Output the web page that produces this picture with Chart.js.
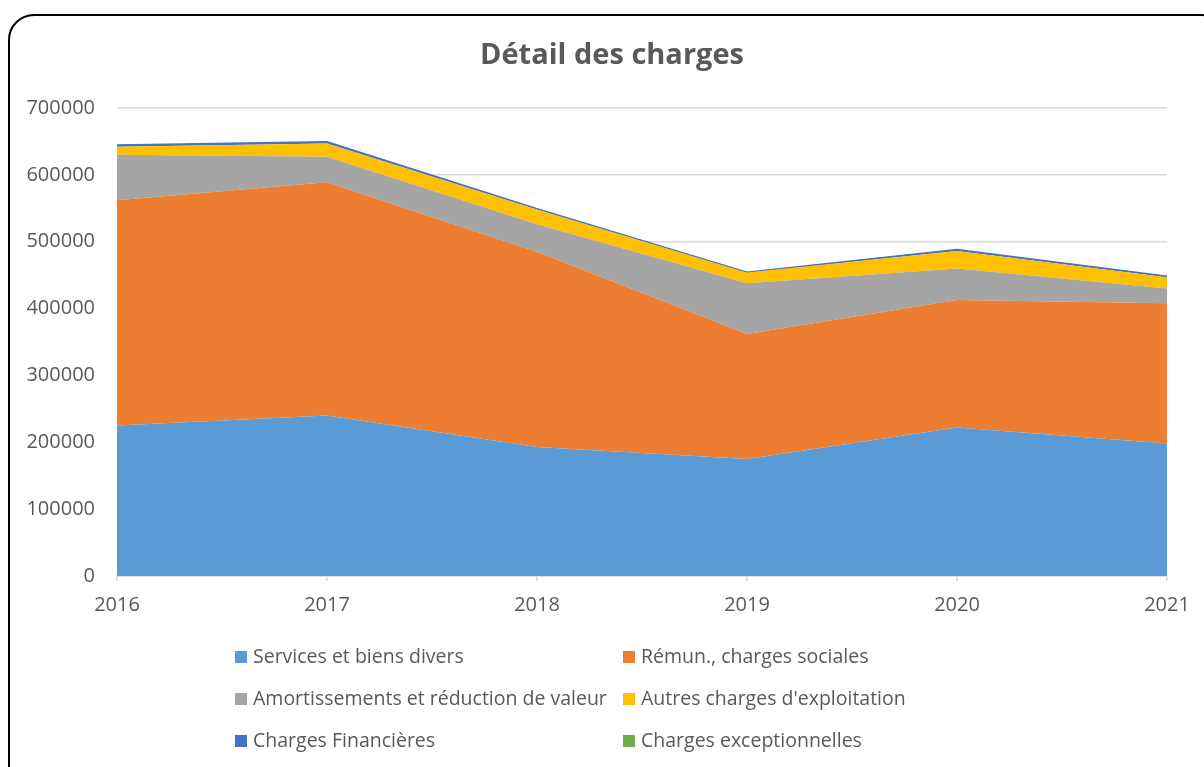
<!DOCTYPE html>
<html lang="fr">
<head>
<meta charset="utf-8">
<script src="https://cdn.jsdelivr.net/npm/chart.js@4"></script>
<style>
  html, body { margin: 0; padding: 0; background: #fff; overflow: hidden; }
  #cadre {
    position: absolute; left: 8px; top: 14px; width: 1220px; height: 780px;
    border: 2px solid #000; border-radius: 26px; box-sizing: border-box;
  }
  #zone { position: absolute; left: 0; top: 0; width: 1204px; height: 767px; }
</style>
</head>
<body>
<div id="cadre"></div>
<div id="zone"><canvas id="graphique" width="1204" height="767"></canvas></div>
<script>
// Données (valeurs empilées séparées par série)
const annees = ['2016', '2017', '2018', '2019', '2020', '2021'];
const services = [225000, 240000, 193000, 175000, 222000, 198000];
const remunerations = [337000, 349000, 292000, 187000, 191000, 210000];
const amortissements = [68000, 38000, 41000, 76000, 47000, 22000];
const autresCharges = [12000, 20000, 22000, 16000, 26000, 17000];
const chargesFinancieres = [2500, 2500, 1500, 500, 2500, 1500];
const chargesExceptionnelles = [0, 0, 0, 0, 0, 0];
const graduationsY = [0, 100000, 200000, 300000, 400000, 500000, 600000, 700000];
const titre = 'Détail des charges';

const series = [
  { nom: 'Services et biens divers', valeurs: services, couleur: '#5B9BD5' },
  { nom: 'Rémun., charges sociales', valeurs: remunerations, couleur: '#ED7D31' },
  { nom: 'Amortissements et réduction de valeur', valeurs: amortissements, couleur: '#A5A5A5' },
  { nom: "Autres charges d'exploitation", valeurs: autresCharges, couleur: '#FFC000' },
  { nom: 'Charges Financières', valeurs: chargesFinancieres, couleur: '#4472C4' },
  { nom: 'Charges exceptionnelles', valeurs: chargesExceptionnelles, couleur: '#70AD47' }
];

const police = "'Open Sans', 'Liberation Sans', sans-serif";
const gris = '#595959';

// Titre centré sur le cadre + légende sur deux colonnes, dessinés à la main
const habillage = {
  id: 'habillage',
  afterDraw(chart) {
    const ctx = chart.ctx;
    ctx.save();
    ctx.font = 'bold 29px ' + police;
    ctx.fillStyle = gris;
    ctx.textAlign = 'center';
    ctx.textBaseline = 'middle';
    ctx.fillText(titre, 612, 56);

    const colonnes = [235, 623];
    const lignes = [657, 699, 741];
    ctx.font = '19.5px ' + police;
    ctx.textAlign = 'left';
    chart.data.datasets.forEach((ds, i) => {
      const x = colonnes[i % 2];
      const y = lignes[Math.floor(i / 2)];
      ctx.fillStyle = ds.backgroundColor;
      ctx.fillRect(x, y - 6, 12, 12);
      ctx.fillStyle = gris;
      ctx.fillText(ds.label, x + 18, y);
    });
    ctx.restore();
  }
};

new Chart(document.getElementById('graphique'), {
  type: 'line',
  data: {
    labels: annees,
    datasets: series.map((s, i) => ({
      label: s.nom,
      data: s.valeurs,
      backgroundColor: s.couleur,
      borderColor: s.couleur,
      borderWidth: i === 4 ? 1.5 : 0,
      fill: i === 0 ? 'origin' : '-1',
      pointRadius: 0,
      tension: 0
    }))
  },
  options: {
    responsive: false,
    animation: false,
    layout: { padding: { left: 10, right: 37, top: 108, bottom: 0 } },
    plugins: {
      legend: { display: false },
      tooltip: { enabled: false },
      title: { display: false }
    },
    scales: {
      x: {
        offset: false,
        grid: { display: true, drawOnChartArea: false, drawTicks: true, tickLength: 5, color: '#D9D9D9', lineWidth: 1.5 },
        border: { color: '#D9D9D9', width: 1.5 },
        ticks: { color: gris, font: { family: police, size: 20 }, padding: 12, maxRotation: 0 },
        afterFit(scale) { scale.height = 191; }
      },
      y: {
        stacked: true,
        min: 0,
        max: 700000,
        afterBuildTicks(scale) { scale.ticks = graduationsY.map(v => ({ value: v })); },
        grid: { color: '#D9D9D9', lineWidth: 1.5, drawTicks: false },
        border: { display: false },
        ticks: { color: gris, font: { family: police, size: 20 }, padding: 22, callback: v => String(v) },
        afterFit(scale) { scale.width = 107; scale.paddingTop = 0; scale.paddingBottom = 0; }
      }
    }
  },
  plugins: [habillage]
});
</script>
</body>
</html>
